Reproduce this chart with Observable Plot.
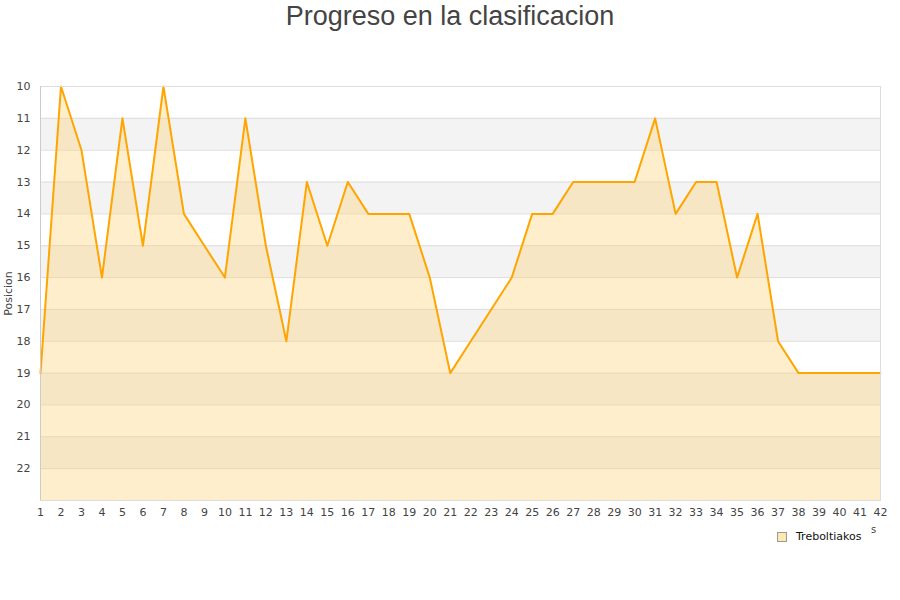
<!DOCTYPE html>
<html>
<head>
<meta charset="utf-8">
<script src="https://cdn.jsdelivr.net/npm/d3@7"></script>
<script src="https://cdn.jsdelivr.net/npm/@observablehq/plot@0.6"></script>
<style>
  body { margin: 0; background: #fff; width: 900px; height: 600px; position: relative; overflow: hidden; }
  #title { font-family: "Liberation Sans", Arial, sans-serif; font-size: 27px; color: #444; text-align: center; height: 44px; line-height: 32px; }
  #legend { position: absolute; left: 777px; top: 530px; font-family: "DejaVu Sans", sans-serif; font-size: 11px; color: #111; display: flex; align-items: center; }
  #legend .sw { width: 8px; height: 8px; border: 1px solid #999; background: #ffe8b0; margin-right: 9px; }
  #xlab { position: absolute; left: 871px; top: 524px; font-family: "DejaVu Sans", sans-serif; font-size: 10px; color: #444; }
</style>
</head>
<body>
<div id="title">Progreso en la clasificacion</div>
<div id="chart"></div>
<div id="xlab">s</div>
<div id="legend"><div class="sw"></div><span>Treboltiakos</span></div>
<script>
const team = "Treboltiakos";
const jornadas = d3.range(1, 43);
const posiciones = [19,10,12,16,11,15,10,14,15,16,11,15,18,13,15,13,14,14,14,16,19,18,17,16,14,14,13,13,13,13,11,14,13,13,16,14,18,19,19,19,19,19];
const yTicks = [10,11,12,13,14,15,16,17,18,19,20,21,22];
const bandStarts = [11,13,15,17,19,21];

const data = jornadas.map((j, i) => ({j, p: posiciones[i]}));
const bands = bandStarts.map(b => ({y1: b, y2: b + 1}));

const chart = Plot.plot({
  width: 900,
  height: 500,
  marginTop: 42,
  marginBottom: 44,
  marginLeft: 40,
  marginRight: 20,
  style: {fontFamily: "DejaVu Sans, sans-serif", fontSize: "11px", color: "#444", background: "#fff"},
  x: {domain: [1, 42], ticks: jornadas, tickSize: 0, tickPadding: 8, label: null},
  y: {domain: [10, 23], reverse: true, ticks: yTicks, tickSize: 0, tickPadding: 10, label: "Posicion", labelAnchor: "center", labelOffset: 36},
  marks: [
    Plot.rect(bands, {x1: 1, x2: 42, y1: "y1", y2: "y2", fill: "#f3f3f3"}),
    Plot.ruleY(yTicks.slice(1).concat([23]), {stroke: "#dddddd", strokeWidth: 1}),
    Plot.areaY(data, {x: "j", y1: 23, y2: "p", fill: "#ffd27a", fillOpacity: 0.38}),
    Plot.line(data, {x: "j", y: "p", stroke: "#ffa500", strokeWidth: 2}),
    Plot.frame({stroke: "#dddddd"}),
    Plot.ruleX([1], {stroke: "#cccccc"}),
    Plot.axisY({ticks: yTicks, tickSize: 0, tickPadding: 10, label: "Posicion", labelAnchor: "center", labelArrow: "none", labelOffset: 36, fontSize: 11}),
    Plot.axisX({ticks: jornadas, tickSize: 0, tickPadding: 8, label: null, fontSize: 11})
  ]
});
document.getElementById("chart").appendChild(chart);
</script>
</body>
</html>
